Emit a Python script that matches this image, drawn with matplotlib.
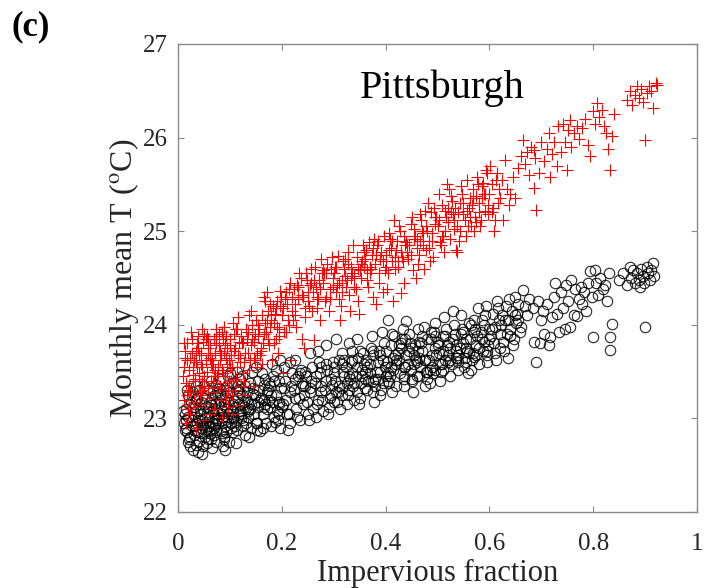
import numpy as np
import matplotlib.pyplot as plt

plt.rcParams['font.family'] = ['Liberation Serif', 'DejaVu Serif']
plt.rcParams['mathtext.fontset'] = 'stix'

# monthly mean temperature vs impervious fraction, Pittsburgh grid cells
# black circles: first run, red crosses: second run
black_x = [
    0.012, 0.015, 0.018, 0.020, 0.022, 0.025, 0.013, 0.016, 0.019, 0.024,
    0.027, 0.030, 0.032, 0.028, 0.034, 0.036, 0.031, 0.029, 0.035, 0.033,
    0.038, 0.040, 0.042, 0.044, 0.039, 0.041, 0.046, 0.043, 0.047, 0.045,
    0.048, 0.050, 0.052, 0.055, 0.049, 0.053, 0.057, 0.051, 0.054, 0.056,
    0.058, 0.060, 0.062, 0.065, 0.059, 0.063, 0.067, 0.061, 0.064, 0.066,
    0.068, 0.070, 0.072, 0.075, 0.069, 0.073, 0.077, 0.071, 0.074, 0.076,
    0.078, 0.080, 0.082, 0.085, 0.079, 0.083, 0.087, 0.081, 0.084, 0.086,
    0.088, 0.090, 0.092, 0.095, 0.089, 0.093, 0.097, 0.091, 0.094, 0.096,
    0.098, 0.100, 0.103, 0.106, 0.099, 0.104, 0.108, 0.101, 0.105, 0.107,
    0.110, 0.112, 0.115, 0.118, 0.111, 0.116, 0.119, 0.113, 0.117, 0.114,
    0.120, 0.123, 0.126, 0.129, 0.121, 0.127, 0.130, 0.124, 0.128, 0.125,
    0.132, 0.135, 0.138, 0.141, 0.133, 0.139, 0.143, 0.136, 0.140, 0.144,
    0.146, 0.149, 0.152, 0.155, 0.147, 0.153, 0.157, 0.150, 0.154, 0.158,
    0.160, 0.163, 0.166, 0.169, 0.161, 0.167, 0.171, 0.164, 0.168, 0.172,
    0.174, 0.177, 0.180, 0.183, 0.175, 0.181, 0.185, 0.178, 0.182, 0.186,
    0.188, 0.191, 0.194, 0.197, 0.189, 0.195, 0.199, 0.192, 0.196, 0.200,
    0.203, 0.207, 0.211, 0.215, 0.205, 0.213, 0.218, 0.209, 0.216, 0.220,
    0.223, 0.227, 0.231, 0.235, 0.225, 0.233, 0.238, 0.229, 0.236, 0.240,
    0.243, 0.247, 0.251, 0.255, 0.245, 0.253, 0.258, 0.249, 0.256, 0.260,
    0.263, 0.267, 0.271, 0.275, 0.265, 0.273, 0.278, 0.269, 0.276, 0.280,
    0.283, 0.287, 0.291, 0.295, 0.285, 0.293, 0.298, 0.289, 0.296, 0.300,
    0.303, 0.307, 0.311, 0.315, 0.305, 0.313, 0.318, 0.309, 0.316, 0.320,
    0.323, 0.327, 0.331, 0.335, 0.325, 0.333, 0.338, 0.329, 0.336, 0.340,
    0.343, 0.347, 0.351, 0.355, 0.345, 0.353, 0.358, 0.349, 0.356, 0.360,
    0.363, 0.367, 0.371, 0.375, 0.365, 0.373, 0.378, 0.369, 0.376, 0.380,
    0.383, 0.387, 0.391, 0.395, 0.385, 0.393, 0.398, 0.389, 0.396, 0.400,
    0.403, 0.407, 0.411, 0.415, 0.405, 0.413, 0.418, 0.409, 0.416, 0.420,
    0.423, 0.427, 0.431, 0.435, 0.425, 0.433, 0.438, 0.429, 0.436, 0.440,
    0.443, 0.447, 0.451, 0.455, 0.445, 0.453, 0.458, 0.449, 0.456, 0.460,
    0.463, 0.467, 0.471, 0.475, 0.465, 0.473, 0.478, 0.469, 0.476, 0.480,
    0.483, 0.487, 0.491, 0.495, 0.485, 0.493, 0.498, 0.489, 0.496, 0.500,
    0.503, 0.507, 0.511, 0.515, 0.505, 0.513, 0.518, 0.509, 0.516, 0.520,
    0.523, 0.527, 0.531, 0.535, 0.525, 0.533, 0.538, 0.529, 0.536, 0.540,
    0.543, 0.547, 0.551, 0.555, 0.545, 0.553, 0.558, 0.549, 0.556, 0.560,
    0.563, 0.567, 0.571, 0.575, 0.565, 0.573, 0.578, 0.569, 0.576, 0.580,
    0.583, 0.587, 0.591, 0.595, 0.585, 0.593, 0.598, 0.589, 0.596, 0.600,
    0.603, 0.607, 0.611, 0.615, 0.605, 0.613, 0.618, 0.609, 0.616, 0.620,
    0.623, 0.627, 0.631, 0.635, 0.625, 0.633, 0.638, 0.629, 0.636, 0.640,
    0.643, 0.647, 0.651, 0.655, 0.645, 0.653, 0.658, 0.649, 0.656, 0.660,
    0.665, 0.669, 0.673, 0.677, 0.683, 0.686, 0.690, 0.693, 0.697, 0.700,
    0.703, 0.706, 0.710, 0.714, 0.717, 0.720, 0.724, 0.727, 0.731, 0.734,
    0.738, 0.742, 0.745, 0.748, 0.752, 0.755, 0.758, 0.762, 0.765, 0.768,
    0.772, 0.776, 0.779, 0.783, 0.786, 0.790, 0.794, 0.797, 0.800, 0.803,
    0.806, 0.810, 0.814, 0.818, 0.822, 0.826, 0.830, 0.832, 0.832, 0.836,
    0.850, 0.858, 0.865, 0.870, 0.872, 0.876, 0.880, 0.884, 0.888, 0.890,
    0.892, 0.895, 0.898, 0.900, 0.903, 0.906, 0.909, 0.912, 0.915, 0.918,
    0.010, 0.014, 0.021, 0.026, 0.037, 0.044, 0.053, 0.062, 0.071, 0.083,
    0.017, 0.023, 0.034, 0.041, 0.058, 0.066, 0.076, 0.088, 0.095, 0.102,
    0.105, 0.125, 0.145, 0.165, 0.185, 0.205, 0.225, 0.245, 0.265, 0.285,
    0.115, 0.135, 0.155, 0.175, 0.195, 0.215, 0.235, 0.255, 0.275, 0.295,
    0.300, 0.310, 0.320, 0.330, 0.340, 0.350, 0.360, 0.370, 0.380, 0.390,
    0.305, 0.315, 0.325, 0.335, 0.345, 0.355, 0.365, 0.375, 0.385, 0.395,
    0.400, 0.410, 0.420, 0.430, 0.440, 0.450, 0.460, 0.470, 0.480, 0.490,
    0.405, 0.415, 0.425, 0.435, 0.445, 0.455, 0.465, 0.475, 0.485, 0.495,
    0.500, 0.510, 0.520, 0.530, 0.540, 0.550, 0.560, 0.570, 0.580, 0.590,
    0.505, 0.515, 0.525, 0.535, 0.545, 0.555, 0.565, 0.575, 0.585, 0.595,
    0.600, 0.610, 0.620, 0.630, 0.640, 0.650, 0.412, 0.437, 0.462, 0.487,
    0.016, 0.028, 0.039, 0.052, 0.063, 0.074, 0.086, 0.097, 0.109, 0.122,
    0.020, 0.033, 0.045, 0.057, 0.069, 0.081, 0.093, 0.105, 0.118, 0.131,
    0.135, 0.150, 0.165, 0.180, 0.195, 0.210, 0.225, 0.240, 0.255, 0.270,
    0.285, 0.300, 0.315, 0.330, 0.345, 0.360, 0.375, 0.390, 0.405, 0.420,
    0.435, 0.450, 0.465, 0.480, 0.495, 0.510, 0.525, 0.540, 0.555, 0.570,
]
black_y = [
    22.95, 23.10, 22.85, 23.02, 22.78, 23.18, 23.05, 22.90, 23.25, 22.70,
    22.98, 22.82, 23.12, 23.28, 22.72, 22.95, 23.05, 22.66, 23.20, 22.88,
    23.00, 22.76, 23.15, 22.90, 22.64, 23.30, 22.98, 23.08, 22.62, 22.84,
    22.93, 23.22, 22.80, 23.05, 22.70, 22.96, 23.12, 23.35, 22.88, 22.74,
    23.02, 22.86, 23.18, 22.95, 23.30, 22.78, 23.08, 22.92, 23.40, 22.68,
    23.10, 22.90, 23.25, 22.98, 22.82, 23.36, 23.05, 23.15, 22.75, 23.00,
    22.95, 23.20, 23.05, 22.84, 23.32, 23.12, 22.70, 23.42, 22.98, 23.08,
    23.15, 22.92, 23.30, 23.02, 22.80, 23.22, 23.45, 22.66, 23.10, 22.97,
    23.05, 23.28, 22.90, 23.15, 22.75, 23.38, 23.00, 23.48, 22.85, 23.20,
    23.12, 22.96, 23.30, 23.05, 22.74, 23.22, 23.42, 22.88, 23.15, 23.50,
    23.08, 23.25, 22.92, 23.35, 23.00, 23.18, 22.82, 23.45, 23.12, 22.98,
    23.20, 23.02, 23.38, 22.90, 23.28, 23.10, 23.50, 22.80, 23.15, 23.32,
    23.05, 23.25, 22.88, 23.40, 23.15, 22.95, 23.30, 23.55, 23.12, 22.86,
    23.22, 23.05, 23.36, 22.95, 23.48, 23.15, 23.28, 22.90, 23.42, 23.10,
    23.30, 23.12, 22.92, 23.45, 23.20, 23.58, 23.02, 23.35, 23.18, 22.96,
    23.25, 23.08, 23.40, 22.90, 23.52, 23.18, 23.32, 22.98, 23.62, 23.12,
    23.15, 23.40, 22.88, 23.28, 23.55, 23.05, 23.35, 23.20, 22.95, 23.48,
    23.30, 23.10, 23.45, 22.98, 23.62, 23.22, 23.38, 23.02, 23.52, 23.15,
    23.25, 23.45, 23.05, 23.70, 23.35, 22.98, 23.55, 23.18, 23.40, 23.10,
    23.38, 23.15, 23.60, 23.28, 23.02, 23.48, 23.20, 23.72, 23.35, 23.08,
    23.30, 23.52, 23.12, 23.42, 23.78, 23.22, 23.60, 23.05, 23.36, 23.48,
    23.40, 23.18, 23.62, 23.32, 23.85, 23.10, 23.50, 23.28, 23.70, 23.45,
    23.55, 23.25, 23.42, 23.72, 23.15, 23.60, 23.35, 23.80, 23.48, 23.20,
    23.45, 23.65, 23.22, 23.52, 23.85, 23.38, 23.58, 23.15, 23.70, 23.32,
    23.62, 23.40, 23.75, 23.28, 23.55, 23.88, 23.18, 23.48, 23.68, 23.35,
    23.50, 23.72, 23.30, 23.62, 23.42, 23.92, 23.55, 23.25, 23.80, 23.45,
    23.60, 23.38, 23.78, 23.52, 24.05, 23.28, 23.68, 23.45, 23.88, 23.58,
    23.70, 23.48, 23.85, 23.35, 23.62, 23.95, 23.55, 23.75, 23.42, 24.04,
    23.58, 23.80, 23.40, 23.68, 23.90, 23.28, 23.62, 23.52, 23.78, 23.45,
    23.72, 23.55, 23.88, 23.35, 23.65, 23.98, 23.50, 23.80, 23.62, 23.42,
    23.62, 23.85, 23.48, 23.75, 23.38, 23.92, 23.68, 23.55, 24.02, 23.78,
    23.70, 23.50, 23.88, 23.62, 23.40, 24.08, 23.78, 23.58, 23.95, 23.68,
    23.82, 23.58, 24.00, 23.72, 23.45, 23.90, 23.65, 24.15, 23.78, 23.52,
    23.75, 23.95, 23.55, 23.85, 24.10, 23.65, 23.48, 23.92, 23.72, 24.02,
    23.85, 23.62, 24.05, 23.78, 23.52, 23.95, 24.18, 23.70, 23.88, 23.58,
    23.92, 23.72, 24.10, 23.60, 23.85, 24.20, 23.78, 24.00, 23.68, 23.95,
    23.88, 24.12, 23.70, 24.25, 23.95, 23.62, 24.05, 23.80, 24.18, 23.75,
    24.00, 23.82, 24.20, 23.65, 24.10, 23.90, 24.28, 23.72, 24.05, 23.95,
    24.15, 23.85, 24.02, 24.22, 23.78, 24.12, 23.92, 24.30, 24.05, 23.98,
    24.37, 24.20, 24.10, 24.28, 24.18, 23.82, 23.60, 24.25, 23.80, 24.05,
    24.15, 23.90, 24.22, 23.78, 23.87, 24.08, 24.30, 24.45, 24.12, 23.92,
    24.35, 24.18, 23.95, 24.42, 24.25, 23.98, 24.48, 24.10, 24.38, 24.09,
    24.28, 24.40, 24.22, 24.35, 24.15, 24.45, 24.57, 24.30, 23.87, 24.59,
    24.45, 24.32, 24.50, 24.38, 24.42, 24.25, 24.55, 23.73, 23.87, 24.01,
    24.48, 24.55, 24.42, 24.62, 24.50, 24.58, 24.45, 24.55, 24.48, 24.40,
    24.60, 24.52, 24.45, 23.98, 24.62, 24.55, 24.48, 24.58, 24.66, 24.52,
    23.08, 22.88, 23.15, 22.92, 23.22, 23.05, 23.12, 22.84, 22.94, 22.86,
    23.30, 22.80, 23.35, 22.98, 22.92, 23.22, 23.28, 22.78, 23.35, 22.95,
    23.02, 23.14, 23.26, 23.20, 23.40, 23.32, 23.22, 23.50, 23.45, 23.58,
    23.35, 23.08, 23.18, 23.38, 23.05, 23.60, 23.48, 23.32, 23.55, 23.25,
    23.55, 23.35, 23.62, 23.45, 23.38, 23.72, 23.50, 23.58, 23.42, 23.68,
    23.28, 23.58, 23.38, 23.62, 23.55, 23.45, 23.30, 23.72, 23.60, 23.38,
    23.72, 23.55, 23.62, 23.80, 23.68, 23.75, 23.60, 23.72, 23.85, 23.68,
    23.48, 23.65, 23.78, 23.55, 23.72, 23.58, 23.82, 23.62, 23.52, 23.88,
    23.82, 23.72, 23.60, 23.85, 23.68, 23.80, 23.70, 23.92, 23.75, 23.82,
    23.58, 23.88, 23.75, 23.65, 23.90, 23.60, 24.00, 23.68, 24.05, 23.72,
    23.85, 23.98, 23.90, 24.05, 23.88, 24.10, 23.90, 23.85, 23.95, 23.92,
    22.98, 23.12, 22.85, 23.00, 23.14, 22.88, 23.02, 23.18, 22.92, 23.05,
    22.75, 22.92, 23.18, 22.78, 23.00, 23.26, 22.85, 23.08, 23.28, 22.95,
    23.10, 22.95, 23.12, 23.25, 23.15, 23.05, 23.42, 23.35, 23.28, 23.20,
    23.40, 23.18, 23.25, 23.30, 23.28, 23.42, 23.40, 23.50, 23.40, 23.35,
    23.45, 23.42, 23.45, 23.50, 23.52, 23.52, 23.62, 23.60, 23.75, 23.66,
]

red_x = [
    0.010, 0.012, 0.014, 0.016, 0.018, 0.020, 0.011, 0.015, 0.019, 0.013,
    0.022, 0.024, 0.026, 0.028, 0.030, 0.023, 0.027, 0.031, 0.025, 0.029,
    0.033, 0.035, 0.037, 0.039, 0.041, 0.034, 0.038, 0.042, 0.036, 0.040,
    0.044, 0.046, 0.048, 0.050, 0.052, 0.045, 0.049, 0.053, 0.047, 0.051,
    0.055, 0.057, 0.059, 0.061, 0.063, 0.056, 0.060, 0.064, 0.058, 0.062,
    0.066, 0.068, 0.070, 0.072, 0.074, 0.067, 0.071, 0.075, 0.069, 0.073,
    0.077, 0.079, 0.081, 0.083, 0.085, 0.078, 0.082, 0.086, 0.080, 0.084,
    0.088, 0.090, 0.092, 0.094, 0.096, 0.089, 0.093, 0.097, 0.091, 0.095,
    0.099, 0.101, 0.103, 0.105, 0.107, 0.100, 0.104, 0.108, 0.102, 0.106,
    0.110, 0.113, 0.116, 0.119, 0.122, 0.111, 0.117, 0.123, 0.114, 0.120,
    0.125, 0.128, 0.131, 0.134, 0.137, 0.126, 0.132, 0.138, 0.129, 0.135,
    0.140, 0.143, 0.146, 0.149, 0.152, 0.141, 0.147, 0.153, 0.144, 0.150,
    0.155, 0.158, 0.161, 0.164, 0.167, 0.156, 0.162, 0.168, 0.159, 0.165,
    0.170, 0.173, 0.176, 0.179, 0.182, 0.171, 0.177, 0.183, 0.174, 0.180,
    0.185, 0.188, 0.191, 0.194, 0.197, 0.186, 0.192, 0.198, 0.189, 0.195,
    0.200, 0.204, 0.208, 0.212, 0.216, 0.202, 0.210, 0.218, 0.206, 0.214,
    0.220, 0.224, 0.228, 0.232, 0.236, 0.222, 0.230, 0.238, 0.226, 0.234,
    0.240, 0.244, 0.248, 0.252, 0.256, 0.242, 0.250, 0.258, 0.246, 0.254,
    0.260, 0.264, 0.268, 0.272, 0.276, 0.262, 0.270, 0.278, 0.266, 0.274,
    0.280, 0.284, 0.288, 0.292, 0.296, 0.282, 0.290, 0.298, 0.286, 0.294,
    0.300, 0.304, 0.308, 0.312, 0.316, 0.302, 0.310, 0.318, 0.306, 0.314,
    0.320, 0.324, 0.328, 0.332, 0.336, 0.322, 0.330, 0.338, 0.326, 0.334,
    0.340, 0.344, 0.348, 0.352, 0.356, 0.342, 0.350, 0.358, 0.346, 0.354,
    0.360, 0.364, 0.368, 0.372, 0.376, 0.362, 0.370, 0.378, 0.366, 0.374,
    0.380, 0.384, 0.388, 0.392, 0.396, 0.382, 0.390, 0.398, 0.386, 0.394,
    0.400, 0.404, 0.408, 0.412, 0.416, 0.402, 0.410, 0.418, 0.406, 0.414,
    0.420, 0.424, 0.428, 0.432, 0.436, 0.422, 0.430, 0.438, 0.426, 0.434,
    0.440, 0.444, 0.448, 0.452, 0.456, 0.442, 0.450, 0.458, 0.446, 0.454,
    0.460, 0.464, 0.468, 0.472, 0.476, 0.462, 0.470, 0.478, 0.466, 0.474,
    0.480, 0.484, 0.488, 0.492, 0.496, 0.482, 0.490, 0.498, 0.486, 0.494,
    0.500, 0.504, 0.508, 0.512, 0.516, 0.502, 0.510, 0.518, 0.506, 0.514,
    0.520, 0.524, 0.528, 0.532, 0.536, 0.522, 0.530, 0.538, 0.526, 0.534,
    0.540, 0.544, 0.548, 0.552, 0.556, 0.542, 0.550, 0.558, 0.546, 0.554,
    0.560, 0.564, 0.568, 0.572, 0.576, 0.562, 0.570, 0.578, 0.566, 0.574,
    0.580, 0.584, 0.588, 0.592, 0.596, 0.582, 0.590, 0.598, 0.586, 0.594,
    0.600, 0.604, 0.608, 0.612, 0.616, 0.602, 0.610, 0.618, 0.606, 0.614,
    0.620, 0.624, 0.627, 0.630, 0.634, 0.638, 0.640, 0.645, 0.650, 0.655,
    0.660, 0.665, 0.668, 0.672, 0.676, 0.680, 0.685, 0.685, 0.688, 0.690,
    0.695, 0.700, 0.705, 0.710, 0.715, 0.717, 0.720, 0.725, 0.730, 0.733,
    0.738, 0.742, 0.745, 0.749, 0.752, 0.755, 0.758, 0.762, 0.768, 0.772,
    0.778, 0.784, 0.790, 0.794, 0.800, 0.804, 0.807, 0.812, 0.816, 0.820,
    0.824, 0.828, 0.832, 0.836, 0.840, 0.866, 0.871, 0.875, 0.880, 0.884,
    0.888, 0.892, 0.896, 0.900, 0.904, 0.908, 0.912, 0.916, 0.920, 0.922,
    0.017, 0.032, 0.043, 0.054, 0.065, 0.076, 0.087, 0.098, 0.109, 0.121,
    0.021, 0.036, 0.047, 0.058, 0.069, 0.081, 0.093, 0.104, 0.115, 0.127,
    0.012, 0.024, 0.035, 0.046, 0.057, 0.068, 0.079, 0.090, 0.101, 0.112,
    0.018, 0.029, 0.040, 0.051, 0.062, 0.073, 0.084, 0.095, 0.106, 0.118,
    0.130, 0.142, 0.154, 0.166, 0.178, 0.190, 0.202, 0.214, 0.226, 0.238,
    0.136, 0.148, 0.160, 0.172, 0.184, 0.196, 0.208, 0.220, 0.232, 0.244,
    0.250, 0.262, 0.274, 0.286, 0.298, 0.310, 0.322, 0.334, 0.346, 0.358,
    0.256, 0.268, 0.280, 0.292, 0.304, 0.316, 0.328, 0.340, 0.352, 0.364,
    0.370, 0.382, 0.394, 0.406, 0.418, 0.430, 0.442, 0.454, 0.466, 0.478,
    0.376, 0.388, 0.400, 0.412, 0.424, 0.436, 0.448, 0.460, 0.472, 0.484,
    0.490, 0.502, 0.514, 0.526, 0.538, 0.550, 0.562, 0.574, 0.586, 0.598,
    0.496, 0.508, 0.520, 0.532, 0.544, 0.556, 0.568, 0.580, 0.592, 0.604,
]
red_y = [
    23.45, 23.20, 23.65, 23.38, 23.80, 23.10, 23.55, 22.95, 23.30, 23.72,
    23.52, 23.28, 23.85, 23.40, 23.62, 23.05, 23.70, 23.18, 23.92, 23.46,
    23.35, 23.60, 23.12, 23.75, 23.48, 22.90, 23.88, 23.25, 23.55, 23.68,
    23.58, 23.30, 23.82, 23.45, 23.15, 23.70, 22.98, 23.62, 23.40, 23.90,
    23.50, 23.75, 23.22, 23.65, 23.40, 23.88, 23.05, 23.58, 23.32, 23.78,
    23.62, 23.38, 23.85, 23.52, 23.95, 23.28, 23.70, 23.45, 23.10, 23.80,
    23.55, 23.78, 23.35, 23.68, 23.92, 23.48, 23.20, 23.85, 23.62, 23.02,
    23.70, 23.45, 23.88, 23.58, 23.30, 23.98, 23.65, 23.12, 23.80, 23.52,
    23.62, 23.85, 23.40, 24.02, 23.72, 23.55, 23.25, 23.90, 23.68, 23.05,
    23.75, 23.55, 24.08, 23.65, 23.88, 23.42, 23.14, 23.80, 23.95, 23.60,
    23.82, 23.60, 23.95, 23.70, 24.10, 23.48, 23.85, 23.62, 23.25, 23.92,
    23.78, 24.00, 23.65, 23.90, 23.55, 24.15, 23.82, 23.70, 23.35, 24.05,
    23.88, 23.68, 24.10, 23.80, 24.25, 23.95, 23.58, 24.02, 23.75, 24.30,
    23.92, 24.15, 23.78, 24.05, 23.62, 24.35, 23.98, 24.20, 23.85, 24.10,
    24.02, 23.85, 24.25, 23.95, 24.36, 24.12, 23.70, 24.30, 24.18, 23.88,
    24.10, 23.92, 24.35, 24.05, 24.45, 23.48, 24.22, 23.62, 24.28, 24.00,
    24.15, 24.38, 23.98, 24.28, 24.50, 24.05, 24.42, 23.85, 24.22, 24.55,
    24.30, 24.08, 24.48, 24.20, 24.60, 23.75, 24.35, 24.15, 24.55, 24.42,
    24.35, 24.62, 24.18, 24.48, 24.70, 23.84, 24.28, 24.55, 24.40, 24.05,
    24.45, 24.25, 24.65, 24.38, 24.72, 24.55, 24.15, 24.50, 24.30, 24.60,
    24.55, 24.35, 24.73, 24.05, 24.48, 24.62, 24.28, 24.68, 24.42, 24.20,
    24.60, 24.40, 24.78, 24.15, 24.55, 24.70, 24.32, 24.85, 24.48, 24.62,
    24.52, 24.72, 24.12, 24.65, 24.85, 24.38, 24.58, 24.78, 24.25, 24.68,
    24.70, 24.48, 24.88, 24.60, 24.30, 24.80, 24.55, 24.92, 24.40, 24.75,
    24.65, 24.85, 24.45, 24.78, 24.95, 24.22, 24.70, 24.58, 24.90, 24.35,
    24.75, 24.55, 24.92, 24.68, 25.12, 24.38, 24.82, 24.60, 24.98, 24.25,
    24.80, 24.62, 25.00, 24.72, 24.45, 24.90, 24.34, 24.85, 25.05, 24.68,
    24.88, 24.70, 25.08, 24.58, 24.95, 24.78, 25.15, 24.50, 24.85, 25.02,
    24.92, 24.75, 25.12, 24.85, 25.22, 24.65, 25.00, 24.80, 25.18, 24.60,
    25.00, 24.82, 25.20, 24.72, 25.08, 25.30, 24.90, 25.15, 24.68, 25.25,
    25.05, 24.88, 25.28, 24.78, 25.15, 25.40, 24.95, 25.50, 24.85, 25.22,
    25.10, 24.92, 25.32, 25.02, 24.80, 25.45, 25.18, 24.78, 25.38, 25.25,
    25.20, 25.00, 25.40, 25.12, 25.55, 24.90, 25.30, 25.05, 25.48, 24.95,
    25.25, 25.05, 25.45, 25.15, 25.58, 25.35, 25.00, 25.50, 25.28, 25.10,
    25.30, 25.12, 25.52, 25.22, 25.62, 25.05, 25.40, 25.18, 25.48, 25.65,
    25.40, 25.20, 25.00, 25.55, 25.30, 25.70, 25.12, 25.45, 25.25, 25.62,
    25.35, 25.55, 25.12, 25.76, 25.45, 25.28, 25.40, 25.58, 25.35, 25.68,
    25.80, 25.97, 25.72, 25.85, 25.60, 25.90, 25.87, 25.46, 25.78, 25.23,
    25.62, 25.95, 25.75, 25.88, 26.05, 25.58, 25.82, 25.95, 25.70, 26.12,
    25.85, 26.15, 25.95, 25.65, 26.08, 26.19, 25.90, 26.05, 26.12, 25.98,
    26.10, 26.20, 25.92, 25.80, 26.28, 26.15, 26.37, 26.22, 26.30, 26.12,
    26.05, 25.88, 25.65, 26.02, 26.25, 26.40, 26.50, 26.35, 26.45, 26.55,
    26.42, 26.52, 26.38, 25.97, 26.48, 26.55, 26.50, 26.32, 26.58, 26.56,
    23.62, 23.42, 23.28, 23.85, 23.55, 23.32, 23.48, 23.40, 23.30, 23.35,
    23.35, 23.80, 23.55, 23.68, 23.45, 23.72, 23.22, 23.55, 23.68, 23.40,
    23.80, 23.65, 23.72, 23.95, 23.85, 23.58, 23.90, 23.38, 23.78, 23.95,
    23.25, 23.55, 23.42, 23.35, 23.68, 23.88, 23.52, 23.75, 23.42, 23.82,
    23.70, 23.85, 24.00, 23.90, 24.22, 23.98, 24.18, 24.38, 24.10, 24.32,
    23.52, 23.62, 23.72, 24.05, 23.80, 24.20, 23.92, 24.30, 24.40, 24.18,
    24.25, 24.48, 24.38, 24.55, 24.40, 24.45, 24.52, 24.50, 24.60, 24.62,
    24.45, 24.30, 24.58, 24.28, 24.62, 24.35, 24.65, 24.40, 24.50, 24.58,
    24.62, 24.75, 24.68, 24.80, 24.72, 24.78, 24.85, 24.92, 24.90, 25.05,
    24.82, 24.55, 24.62, 24.90, 24.68, 24.95, 24.75, 24.82, 24.98, 24.90,
    24.98, 25.12, 25.00, 25.20, 25.05, 25.18, 25.15, 25.38, 25.35, 25.28,
    25.15, 24.95, 25.25, 25.12, 25.30, 25.22, 25.35, 25.20, 25.40, 25.50,
]

xticks = [0, 0.2, 0.4, 0.6, 0.8, 1]
xticklabels = ['0', '0.2', '0.4', '0.6', '0.8', '1']
yticks = [22, 23, 24, 25, 26, 27]

fig = plt.figure(figsize=(7.05, 5.88), dpi=100)
ax = fig.add_axes([0.2525, 0.1293, 0.7362, 0.7959])

ax.plot(black_x, black_y, 'o', mfc='none', mec='black', ms=7.5, mew=0.8, alpha=0.85)
ax.plot(red_x, red_y, '+', color='red', ms=9, mew=0.8)

ax.set_xlim(0, 1)
ax.set_ylim(22, 27)
ax.set_xticks(xticks)
ax.set_xticklabels(xticklabels)
ax.set_yticks(yticks)

for s in ax.spines.values():
    s.set_color('#8a8a8a')
    s.set_linewidth(1.0)
ax.tick_params(direction='in', top=True, right=True, length=4, width=0.8,
               color='#8a8a8a', labelcolor='#262626', labelsize=18)
ax.tick_params(axis='x', pad=15)
ax.tick_params(axis='y', pad=7)

ax.set_xlabel('Impervious fraction', fontsize=22, color='#262626', labelpad=3)
ax.set_ylabel(r'Monthly mean T ($^{\rm o}$C)', fontsize=23, color='#262626', labelpad=2)

ax.text(0.51, 26.53, 'Pittsburgh', fontsize=29, ha='center', va='center')
fig.text(0.017, 0.955, '(c)', fontsize=25, fontweight='bold', ha='left', va='center')

fig.savefig('out.png', dpi=100)
